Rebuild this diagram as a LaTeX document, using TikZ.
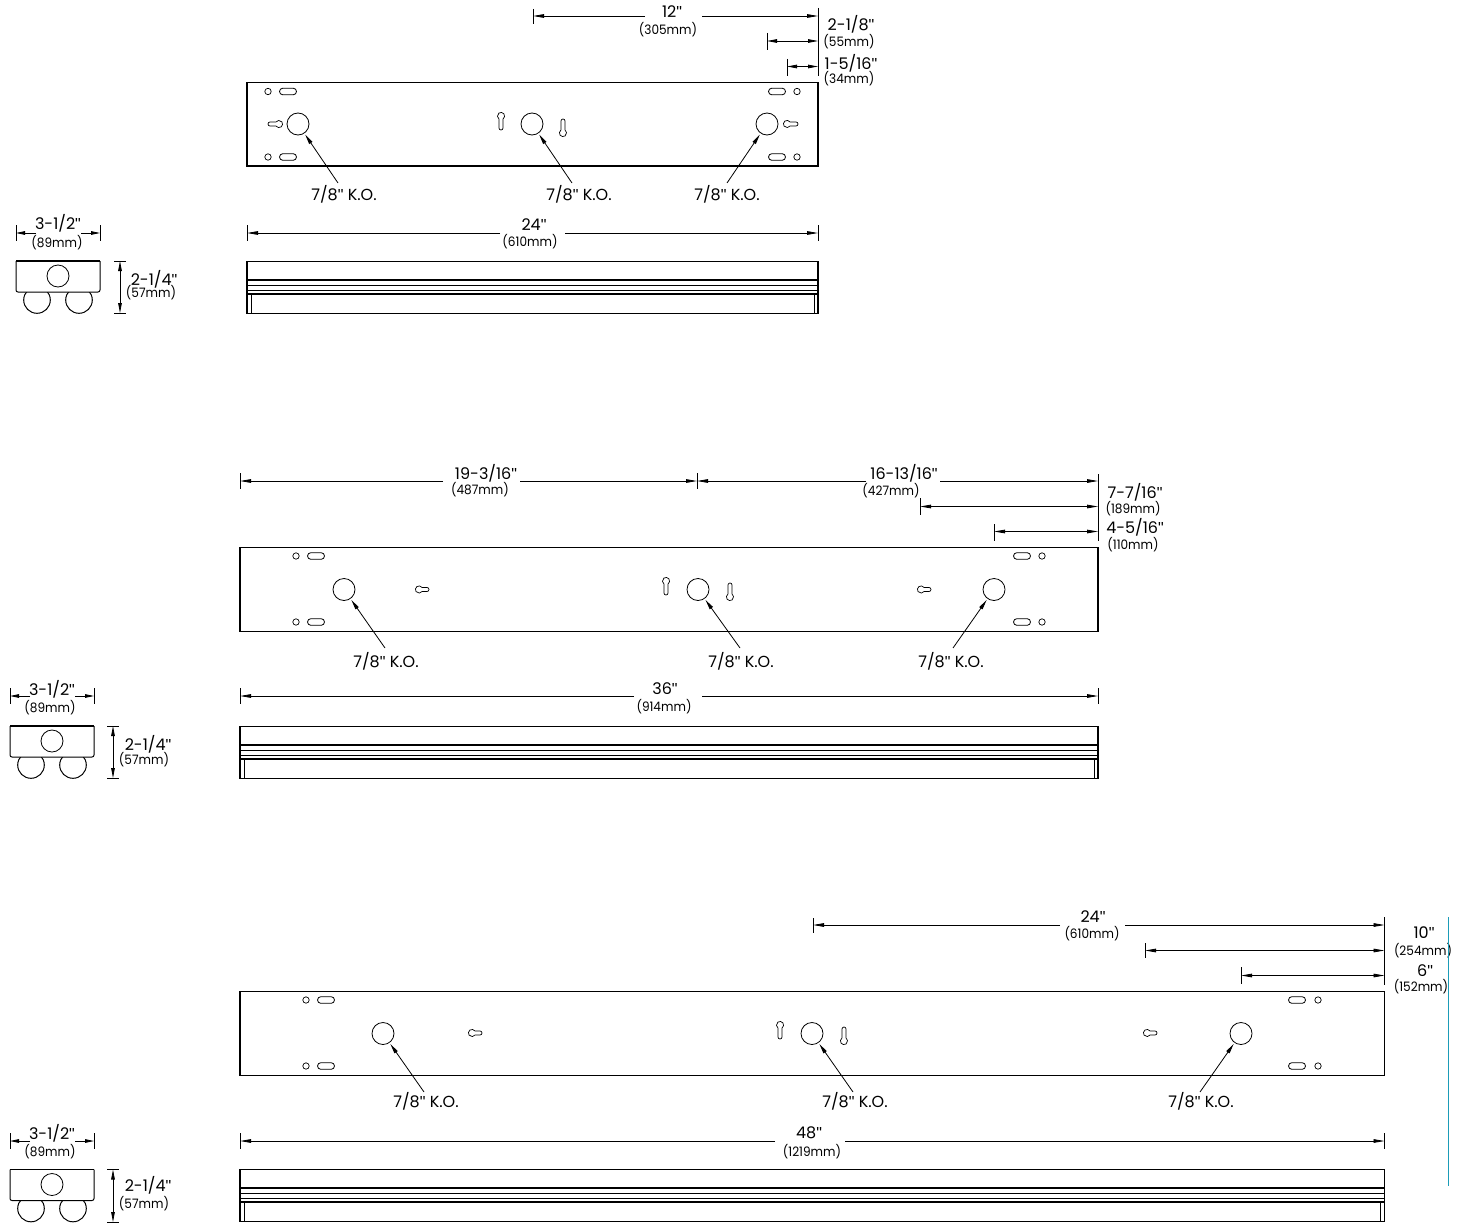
\documentclass[tikz,border=0pt]{standalone}
\usepackage{fontspec}
\setmainfont{Poppins}
\newfontfamily\smallfam[FakeStretch=0.93]{Poppins}
\newfontfamily\qfam{Liberation Sans}
\newcommand{\qq}{{\qfam"}}
\usetikzlibrary{arrows.meta}
\definecolor{edgeblue}{HTML}{1B9CB8}
\tikzset{
  x=1pt,y=-1pt,
  thin line/.style={line width=0.8pt,black},
  plate line/.style={line width=1.2pt,black},
  dimarrow/.style={line width=0.8pt,-{Triangle[length=11pt,width=3.6pt]}},
  leader/.style={line width=0.8pt,-{Triangle[length=10pt,width=3.8pt]},shorten >=1.5pt},
  big/.style={font=\fontsize{16}{16}\selectfont,inner sep=0pt},
  small/.style={font=\smallfam\fontsize{13}{13}\selectfont,inner sep=0pt},
  ko/.style={circle,draw,line width=0.8pt,minimum size=22pt,inner sep=0pt},
}
\newcommand{\dimgap}[6]{%
  \coordinate (#1a) at (#2,#4); \coordinate (#1b) at (#3,#4);
  \coordinate (#1c) at (#5,#4); \coordinate (#1d) at (#6,#4);
  \draw[dimarrow] (#1c) -- (#1a);
  \draw[dimarrow] (#1d) -- (#1b);
}
\newcommand{\tickv}[4]{\coordinate (#1t) at (#2,#3); \coordinate (#1u) at (#2,#4); \draw[thin line] (#1t) -- (#1u);}
\newcommand{\keyshape}[4]{% x y rotate taillength
  \begin{scope}[shift={(#1,#2)},x=1pt,y=1pt,rotate=#3]
    \draw[line width=0.7pt] (35:3.6) arc[start angle=35,end angle=325,radius=3.6] -- (#4,-2) arc[start angle=-90,end angle=90,radius=2] -- cycle;
  \end{scope}}
\newcommand{\slotshape}[2]{%
  \begin{scope}[shift={(#1,#2)},x=1pt,y=1pt]
    \draw[line width=0.8pt] (-5.2,3.3) -- (5.2,3.3) arc[start angle=90,end angle=-90,radius=3.3] -- (-5.2,-3.3) arc[start angle=270,end angle=90,radius=3.3] -- cycle;
  \end{scope}}
\newcommand{\hole}[2]{\draw[line width=0.7pt] (#1,#2) circle[radius=3.2pt];}
\newcommand{\frontview}[3]{% x1 x2 ytop
  \draw[plate line] (#1,#3+0.0) rectangle (#2,#3+52);
  \draw[line width=1.3pt] (#1,#3+18.5) -- (#2,#3+18.5);
  \draw[line width=1pt] (#1,#3+23.5) -- (#2,#3+23.5);
  \draw[line width=0.8pt] (#1,#3+29) -- (#2,#3+29);
  \draw[line width=1.2pt] (#1,#3+32.5) -- (#2,#3+32.5);
  \draw[line width=0.8pt] (#1+4,#3+32.5) -- (#1+4,#3+52);
  \draw[line width=0.8pt] (#2-4,#3+32.5) -- (#2-4,#3+52);
}
\newcommand{\sideview}[3]{% x ytop name
  \draw[line width=1pt] (#1+21,#2+39) circle[radius=13.3pt];
  \draw[line width=1pt] (#1+63,#2+39) circle[radius=13.3pt];
  \draw[line width=1pt,fill=white,rounded corners=2pt] (#1,#2) -- (#1,#2+31) -- (#1+84,#2+31) -- (#1+84,#2) ;
  \draw[line width=1.5pt] (#1,#2) -- (#1+84,#2);
  \node[ko] (#3) at (#1+42,#2+15) {};
}
\newcommand{\widthdim}[2]{% x y
  \coordinate (wl) at (#1,#2); \coordinate (wr) at (#1+84,#2);
  \coordinate (wlg) at (#1+20,#2); \coordinate (wrg) at (#1+65,#2);
  \draw[thin line] (#1,#2-8) -- (#1,#2+8);
  \draw[thin line] (#1+84,#2-8) -- (#1+84,#2+8);
  \draw[line width=0.8pt,-{Triangle[length=9pt,width=3.6pt]}] (wlg) -- (wl);
  \draw[line width=0.8pt,-{Triangle[length=9pt,width=3.6pt]}] (wrg) -- (wr);
}
\newcommand{\heightdim}[3]{% x ytop ybottom
  \coordinate (ht) at (#1,#2); \coordinate (hb) at (#1,#3);
  \draw[thin line] (#1-6,#2) -- (#1+6,#2);
  \draw[thin line] (#1-6,#3) -- (#1+6,#3);
  \draw[line width=0.8pt,{Triangle[length=10pt,width=3.6pt]}-{Triangle[length=10pt,width=3.6pt]}] (ht) -- (hb);
}
\begin{document}
\begin{tikzpicture}
\useasboundingbox (0,0) rectangle (1466,1223);
% ===== PANEL 1 =====
\draw[plate line] (247,82.5) rectangle (818,166);
\foreach \y in {91.5,157}{\hole{268}{\y}\slotshape{288}{\y}\slotshape{777}{\y}\hole{797}{\y}}
\keyshape{279}{124}{180}{9}
\keyshape{787}{124}{0}{9}
\keyshape{501}{116}{-90}{12}
\keyshape{563}{133}{90}{12}
\node[ko] (a1) at (298,124) {};
\node[ko] (a2) at (532,124) {};
\node[ko] (a3) at (767,124) {};
\node[big] (a1l) at (344,194) {7/8\qq{} K.O.};
\node[big] (a2l) at (579,194) {7/8\qq{} K.O.};
\node[big] (a3l) at (727,194) {7/8\qq{} K.O.};
\coordinate (a1s) at (338,183); \coordinate (a2s) at (572,183); \coordinate (a3s) at (727,183);
\draw[leader] (a1s) -- (a1);
\draw[leader] (a2s) -- (a2);
\draw[leader] (a3s) -- (a3);
\tickv{p1e}{818}{8}{76}
\tickv{p1t}{533}{9}{24}
\dimgap{p1x}{533}{818}{16}{645}{702}
\node[big] (n1a) at (672,12) {12\qq};
\node[small] (n1b) at (668,30) {(305mm)};
\tickv{p1u}{767}{33}{50}
\coordinate (p1ua) at (767,41); \coordinate (p1ub) at (818,41);
\draw[dimarrow,{Triangle[length=10pt,width=3.6pt]}-{Triangle[length=10pt,width=3.6pt]}] (p1ua) -- (p1ub);
\tickv{p1v}{787}{59}{76}
\coordinate (p1va) at (787,66.5); \coordinate (p1vb) at (818,66.5);
\draw[dimarrow,{Triangle[length=10pt,width=3.6pt]}-{Triangle[length=10pt,width=3.6pt]}] (p1va) -- (p1vb);
\node[big] (n1c) at (851,24) {2-1/8\qq};
\node[small] (n1d) at (849,42) {(55mm)};
\node[big] (n1e) at (851,63) {1-5/16\qq};
\node[small] (n1f) at (849,79) {(34mm)};
\tickv{p1w}{247}{225}{241}
\tickv{p1y}{818}{225}{241}
\dimgap{p1z}{247}{818}{233}{500}{565}
\node[big] (n1g) at (534,225) {24\qq};
\node[small] (n1h) at (530,242) {(610mm)};
\frontview{247}{818}{261.5}
\sideview{16}{261}{s1}
\widthdim{16}{233}
\node[big] (n1i) at (58,223) {3-1/2\qq};
\node[small] (n1j) at (57,243) {(89mm)};
\heightdim{120}{261}{313}
\node[big] (n1k) at (154,279) {2-1/4\qq};
\node[small] (n1l) at (151,293) {(57mm)};
% ===== PANEL 2 =====
\draw[plate line] (240,547.5) rectangle (1098,631.5);
\foreach \y in {556,622}{\hole{296}{\y}\slotshape{316}{\y}\slotshape{1022}{\y}\hole{1042}{\y}}
\keyshape{419}{589.5}{0}{8}
\keyshape{921}{589.5}{0}{8}
\keyshape{666}{581}{-90}{12}
\keyshape{730}{597}{90}{12}
\node[ko] (b1) at (344,589.5) {};
\node[ko] (b2) at (698,589.5) {};
\node[ko] (b3) at (994,589.5) {};
\node[big] (b1l) at (386,661) {7/8\qq{} K.O.};
\node[big] (b2l) at (741,661) {7/8\qq{} K.O.};
\node[big] (b3l) at (951,661) {7/8\qq{} K.O.};
\coordinate (b1s) at (385,648); \coordinate (b2s) at (740,648); \coordinate (b3s) at (953,648);
\draw[leader] (b1s) -- (b1);
\draw[leader] (b2s) -- (b2);
\draw[leader] (b3s) -- (b3);
\tickv{p2e}{1098}{474}{541}
\tickv{p2t}{240}{473}{489}
\tickv{p2m}{697}{473}{489}
\dimgap{p2x}{240}{697}{481}{443}{520}
\dimgap{p2y}{697}{1098}{481}{866}{940}
\node[big] (n2a) at (486,473) {19-3/16\qq};
\node[small] (n2b) at (480,490) {(487mm)};
\node[big] (n2c) at (904,473) {16-13/16\qq};
\node[small] (n2d) at (891,491) {(427mm)};
\tickv{p2u}{920}{498}{515}
\coordinate (p2ua) at (920,506.5); \coordinate (p2ub) at (1098,506.5);
\draw[dimarrow,{Triangle[length=11pt,width=3.6pt]}-{Triangle[length=11pt,width=3.6pt]}] (p2ua) -- (p2ub);
\tickv{p2v}{994}{524}{541}
\coordinate (p2va) at (994,531.5); \coordinate (p2vb) at (1098,531.5);
\draw[dimarrow,{Triangle[length=11pt,width=3.6pt]}-{Triangle[length=11pt,width=3.6pt]}] (p2va) -- (p2vb);
\node[big] (n2e) at (1135,492) {7-7/16\qq};
\node[small] (n2f) at (1133,509) {(189mm)};
\node[big] (n2g) at (1135,527) {4-5/16\qq};
\node[small] (n2h) at (1133,545) {(110mm)};
\tickv{p2w}{240}{688}{704}
\tickv{p2z}{1098}{688}{704}
\dimgap{p2q}{240}{1098}{696}{634}{702}
\node[big] (n2i) at (665,689) {36\qq};
\node[small] (n2j) at (664,707) {(914mm)};
\frontview{240}{1098}{726.5}
\sideview{10}{726}{s2}
\widthdim{10}{696}
\node[big] (n2k) at (52,689) {3-1/2\qq};
\node[small] (n2l) at (50,708) {(89mm)};
\heightdim{113}{726}{778}
\node[big] (n2m) at (148,744) {2-1/4\qq};
\node[small] (n2n) at (144,760) {(57mm)};
% ===== PANEL 3 =====
\draw[plate line] (240,991.5) rectangle (1384.5,1075.5);
\foreach \y in {1000,1066}{\hole{306}{\y}\slotshape{326}{\y}\slotshape{1297}{\y}\hole{1318}{\y}}
\keyshape{472}{1033}{0}{8}
\keyshape{1147}{1033}{0}{8}
\keyshape{780}{1025}{-90}{12}
\keyshape{844}{1041}{90}{12}
\node[ko] (c1) at (383,1033.5) {};
\node[ko] (c2) at (812,1033.5) {};
\node[ko] (c3) at (1241,1033.5) {};
\node[big] (c1l) at (426,1101) {7/8\qq{} K.O.};
\node[big] (c2l) at (855,1101) {7/8\qq{} K.O.};
\node[big] (c3l) at (1201,1101) {7/8\qq{} K.O.};
\coordinate (c1s) at (424,1092); \coordinate (c2s) at (853,1092); \coordinate (c3s) at (1200,1092);
\draw[leader] (c1s) -- (c1);
\draw[leader] (c2s) -- (c2);
\draw[leader] (c3s) -- (c3);
\tickv{p3e}{1384.5}{917}{985}
\tickv{p3t}{813}{918}{933}
\dimgap{p3x}{813}{1384.5}{925}{1060}{1125}
\node[big] (n3a) at (1093,917) {24\qq};
\node[small] (n3b) at (1092,934) {(610mm)};
\tickv{p3u}{1145}{943}{958}
\coordinate (p3ua) at (1145,950.5); \coordinate (p3ub) at (1384.5,950.5);
\draw[dimarrow,{Triangle[length=11pt,width=3.6pt]}-{Triangle[length=11pt,width=3.6pt]}] (p3ua) -- (p3ub);
\tickv{p3v}{1241}{967}{984}
\coordinate (p3va) at (1241,975.5); \coordinate (p3vb) at (1384.5,975.5);
\draw[dimarrow,{Triangle[length=11pt,width=3.6pt]}-{Triangle[length=11pt,width=3.6pt]}] (p3va) -- (p3vb);
\node[big] (n3c) at (1424,933) {10\qq};
\node[small] (n3d) at (1423,951) {(254mm)};
\node[big] (n3e) at (1425,971) {6\qq};
\node[small] (n3f) at (1421,987) {(152mm)};
\tickv{p3w}{240}{1133}{1149}
\tickv{p3z}{1384.5}{1133}{1149}
\dimgap{p3q}{240}{1384.5}{1141}{775}{845}
\node[big] (n3g) at (809,1133) {48\qq};
\node[small] (n3h) at (812,1152) {(1219mm)};
\frontview{240}{1384.5}{1169.5}
\sideview{10}{1169.5}{s3}
\widthdim{10}{1141}
\node[big] (n3i) at (52,1133) {3-1/2\qq};
\node[small] (n3j) at (50,1152) {(89mm)};
\heightdim{113}{1169.5}{1222}
\node[big] (n3k) at (148,1185) {2-1/4\qq};
\node[small] (n3l) at (144,1204) {(57mm)};
% blue edge line
\coordinate (ble1) at (1448.7,917); \coordinate (ble2) at (1448.7,1186);
\draw[line width=1.1pt,edgeblue] (ble1) -- (ble2);
\end{tikzpicture}
\end{document}
